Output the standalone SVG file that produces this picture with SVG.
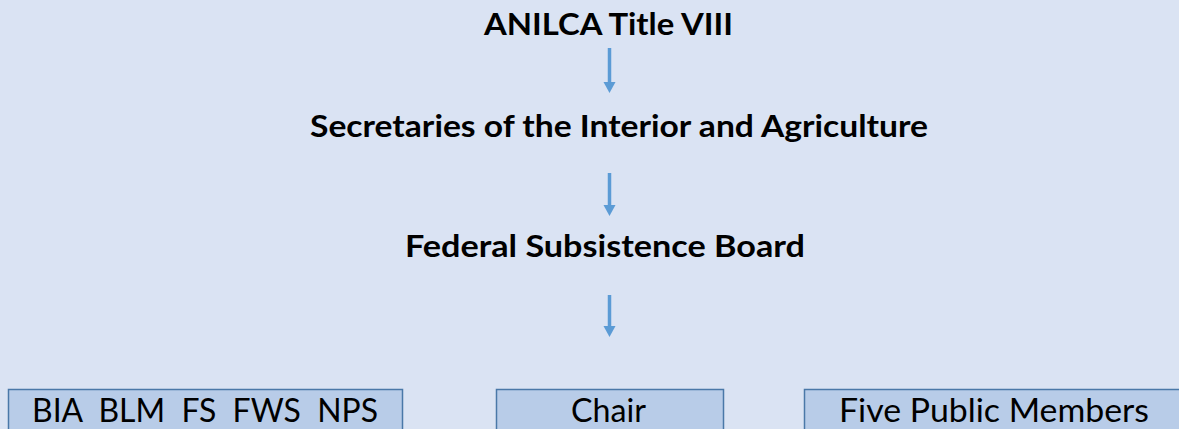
<svg xmlns="http://www.w3.org/2000/svg" width="1179" height="429" viewBox="0 0 1179 429">
  <defs>
    <style>
      .title { font-family: Lato, "Open Sans", "Liberation Sans", sans-serif; font-weight: bold; font-size: 31px; fill: #000000; }
      .label { font-family: Lato, "Open Sans", "Liberation Sans", sans-serif; font-size: 33px; fill: #000000; white-space: pre; }
      .box { fill: #B8CCE8; stroke: #4A78A8; stroke-width: 1.5; }
      .arrow { stroke: #5B9BD5; stroke-width: 3.5; fill: none; }
      .head { fill: #5B9BD5; }
    </style>
  </defs>
  <rect x="0" y="0" width="1179" height="429" fill="#DAE3F3"/>

  <g id="node-anilca">
    <text class="title" x="484" y="35" textLength="249" lengthAdjust="spacingAndGlyphs">ANILCA Title VIII</text>
  </g>
  <g id="node-secretaries">
    <text class="title" x="310" y="137" textLength="618" lengthAdjust="spacingAndGlyphs">Secretaries of the Interior and Agriculture</text>
  </g>
  <g id="node-fsb">
    <text class="title" x="405" y="257" textLength="400" lengthAdjust="spacingAndGlyphs">Federal Subsistence Board</text>
  </g>

  <g id="connectors">
    <line class="arrow" x1="609.5" y1="48" x2="609.5" y2="83"/>
    <polygon class="head" points="603.5,82 615.5,82 609.5,93"/>
    <line class="arrow" x1="609.5" y1="173" x2="609.5" y2="206"/>
    <polygon class="head" points="603.5,205 615.5,205 609.5,216"/>
    <line class="arrow" x1="609.5" y1="295" x2="609.5" y2="327"/>
    <polygon class="head" points="603.5,326 615.5,326 609.5,337"/>
  </g>

  <g id="node-agencies">
    <rect class="box" x="8.5" y="389.5" width="394" height="50"/>
    <text class="label" x="32" y="422" textLength="346" lengthAdjust="spacingAndGlyphs" xml:space="preserve">BIA  BLM  FS  FWS  NPS</text>
  </g>
  <g id="node-chair">
    <rect class="box" x="496.5" y="389.5" width="227" height="50"/>
    <text class="label" x="571" y="422" textLength="75" lengthAdjust="spacingAndGlyphs">Chair</text>
  </g>
  <g id="node-public">
    <rect class="box" x="804.5" y="389.5" width="380" height="50"/>
    <text class="label" x="839" y="422" textLength="310" lengthAdjust="spacingAndGlyphs">Five Public Members</text>
  </g>
</svg>
